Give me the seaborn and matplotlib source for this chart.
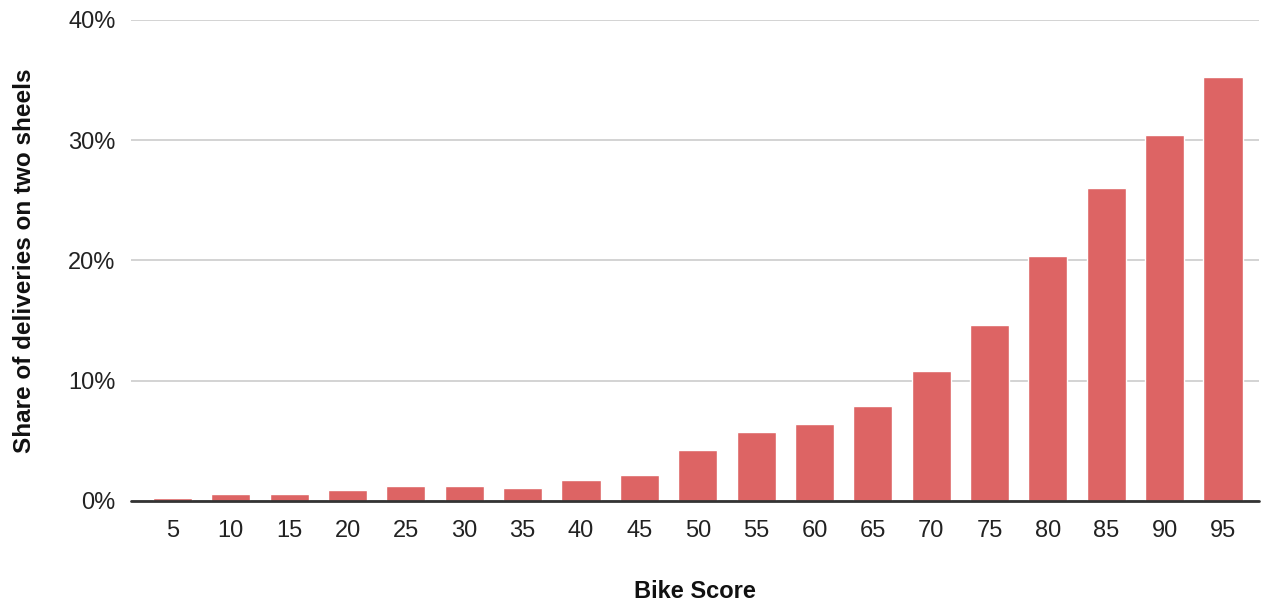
import matplotlib.pyplot as plt
import pandas as pd
import seaborn as sns
from matplotlib.ticker import PercentFormatter

bike_score = [5, 10, 15, 20, 25, 30, 35, 40, 45, 50, 55, 60, 65, 70, 75, 80, 85, 90, 95]
share_two_wheels = [0.22, 0.58, 0.58, 0.89, 1.25, 1.25, 1.06, 1.75, 2.2, 4.2, 5.7, 6.4,
                    7.9, 10.8, 14.6, 20.4, 26.0, 30.4, 35.25]

df = pd.DataFrame({"Bike Score": [str(b) for b in bike_score],
                   "share": share_two_wheels})

sns.set_theme(style="white")
plt.rcParams['font.family'] = ['Liberation Sans', 'DejaVu Sans']

fig = plt.figure(figsize=(12.62, 6.02), dpi=100)
ax = fig.add_axes([0.1038, 0.1678, 0.894, 0.799])

sns.barplot(data=df, x="Bike Score", y="share", color="#dd6464", saturation=1,
            width=0.67, ax=ax, zorder=3)

ax.set_ylim(0, 40)
ax.set_xlim(-0.71, 18.62)
ax.set_yticks([0, 10, 20, 30, 40])
ax.yaxis.set_major_formatter(PercentFormatter(decimals=0))
ax.grid(axis="y", color="#cccccc", linewidth=1.2, zorder=0)
ax.axhline(0, color="#333333", linewidth=2, zorder=4, clip_on=False)

for s in ax.spines.values():
    s.set_visible(False)

ax.tick_params(axis="both", length=0, labelsize=17, colors="#222222")
ax.tick_params(axis="y", pad=11)
ax.tick_params(axis="x", pad=14)

ax.set_xlabel("Bike Score", fontsize=17, fontweight="bold", labelpad=27, color="#111111")
ax.set_ylabel("Share of deliveries on two sheels", fontsize=17.5, fontweight="bold",
              labelpad=23, color="#111111")

fig.savefig("out.png", dpi=100)
